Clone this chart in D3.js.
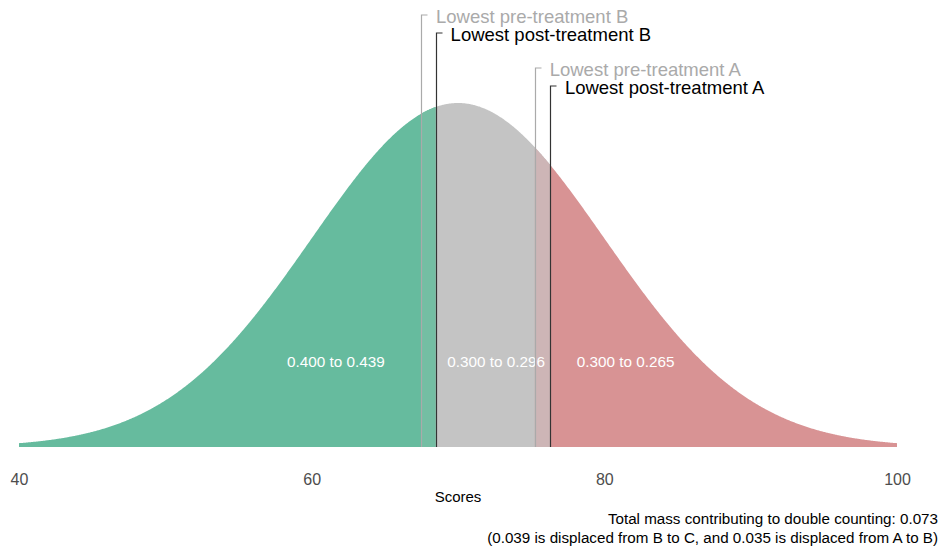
<!DOCTYPE html>
<html>
<head>
<meta charset="utf-8">
<script src="https://cdn.jsdelivr.net/npm/d3@7"></script>
<style>
  body { margin: 0; background: #fff; }
  text { font-family: "Liberation Sans", Arial, sans-serif; }
</style>
</head>
<body>
<script>
// distribution of scores
var mean = 70, sd = 10;
var xTicks = [40, 60, 80, 100];

// cutoffs (scores) and their labels
var cutNames = ["Lowest pre-treatment B", "Lowest post-treatment B", "Lowest pre-treatment A", "Lowest post-treatment A"];
var cutScores = [67.47, 68.47, 75.24, 76.28];
var cutKind = ["pre", "post", "pre", "post"];

// region labels (pre to post proportions)
var regionLabels = ["0.400 to 0.439", "0.300 to 0.296", "0.300 to 0.265"];
var regionCenters = [61.65, 72.6, 81.45];

var captionLines = ["Total mass contributing to double counting: 0.073",
                    "(0.039 is displaced from B to C, and 0.035 is displaced from A to B)"];

var width = 944, height = 546;
var svg = d3.select('body').append('svg')
            .attr('width', width)
            .attr('height', height);

var x = d3.scaleLinear().domain([40, 100]).range([19, 897]);
var peak = 1 / (sd * Math.sqrt(2 * Math.PI));
var y = d3.scaleLinear().domain([0, peak]).range([447, 103]);

function dens(v) {
  var z = (v - mean) / sd;
  return peak * Math.exp(-0.5 * z * z);
}
function pts(a, b) {
  var out = [];
  var n = Math.max(2, Math.ceil((b - a) / 0.05));
  for (var i = 0; i <= n; i++) {
    var v = a + (b - a) * i / n;
    out.push({x: v, y: dens(v)});
  }
  return out;
}

var area = d3.area()
             .x(function(d){ return x(d.x); })
             .y0(y(0))
             .y1(function(d){ return y(d.y); });

var regions = [
  [40, cutScores[1], "#66bb9e"],
  [cutScores[1], cutScores[3], "#c4c4c4"],
  [cutScores[3], 100, "#d89394"],
  [cutScores[0], cutScores[1], "#74bea3"],
  [cutScores[2], cutScores[3], "#cdb5b6"]
];
svg.append('g').selectAll('path')
   .data(regions)
   .enter().append('path')
   .attr('d', function(d){ return area(pts(d[0], d[1])); })
   .attr('fill', function(d){ return d[2]; });

// region labels
svg.append('g').selectAll('text')
   .data(regionLabels)
   .enter().append('text')
   .attr('x', function(d, i){ return x(regionCenters[i]); })
   .attr('y', 367)
   .attr('text-anchor', 'middle')
   .attr('fill', '#fff')
   .attr('font-size', 15.3)
   .text(function(d){ return d; });

// cutoff lines with bracket labels
var tops = [15, 33, 68, 86];
var cuts = svg.append('g').selectAll('g')
              .data(cutNames)
              .enter().append('g');
cuts.append('path')
    .attr('d', function(d, i){
      var cx = Math.round(x(cutScores[i])) + 0.5;
      return 'M' + cx + ',' + y(0) + 'V' + tops[i] + 'H' + (cx + 6);
    })
    .attr('fill', 'none')
    .attr('stroke', function(d, i){ return cutKind[i] === 'pre' ? '#aaaaaa' : '#333333'; })
    .attr('stroke-width', 1.2);
cuts.append('text')
    .attr('x', function(d, i){ return x(cutScores[i]) + 15; })
    .attr('y', function(d, i){ return tops[i] + 8; })
    .attr('font-size', 18.5)
    .attr('fill', function(d, i){ return cutKind[i] === 'pre' ? '#aaaaaa' : '#000'; })
    .text(function(d){ return d; });

// x axis
var xAxis = d3.axisBottom(x).tickValues(xTicks).tickSize(0).tickPadding(0);
var ax = svg.append('g').attr('transform', 'translate(0,474)').call(xAxis);
ax.select('.domain').remove();
ax.selectAll('.tick text')
  .attr('font-size', 16)
  .attr('font-family', '"Liberation Sans", Arial, sans-serif')
  .attr('fill', '#4d4d4d');

svg.append('text')
   .attr('x', x(70)).attr('y', 502)
   .attr('text-anchor', 'middle')
   .attr('font-size', 15)
   .text('Scores');

svg.append('g').selectAll('text')
   .data(captionLines)
   .enter().append('text')
   .attr('x', 938)
   .attr('y', function(d, i){ return 524 + i * 19; })
   .attr('text-anchor', 'end')
   .attr('font-size', 15.2)
   .text(function(d){ return d; });
</script>
</body>
</html>
